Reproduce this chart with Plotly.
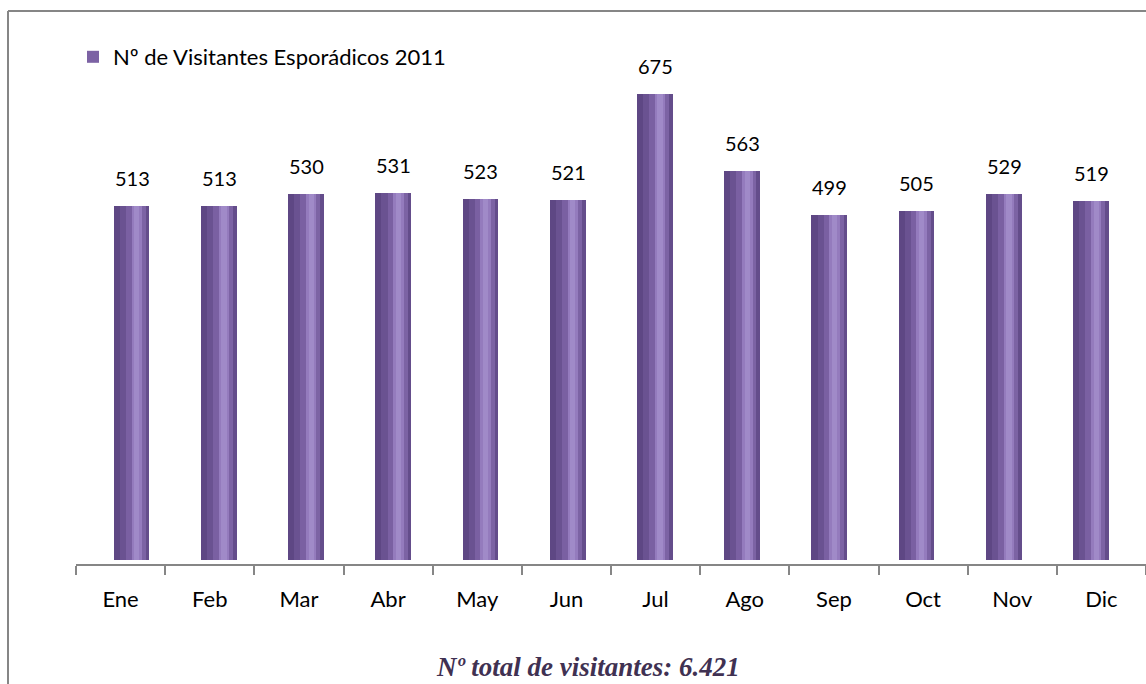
import plotly.graph_objects as go

months = ["Ene", "Feb", "Mar", "Abr", "May", "Jun", "Jul", "Ago", "Sep", "Oct", "Nov", "Dic"]
visitors = [513, 513, 530, 531, 523, 521, 675, 563, 499, 505, 529, 519]
series_name = "Nº de Visitantes Esporádicos 2011"
subtitle = "Nº total de visitantes: 6.421"

W = 1146
H = 684
L, R, T, B = 76, 0, 40, 120
pw = W - L - R
ph = H - T - B

def px_x(p):
    return (p - L) / pw

def px_y(p):
    return (H - B - p) / ph

FONT = "Lato"
fig = go.Figure()

# cylinder-like bar built from overlaid strips
strips = [
    # (offset, width, color, legend)
    (-0.205, 0.41, "#7C62A4", True),
    (-0.205, 0.07, "#5E4784", False),
    (-0.135, 0.07, "#6A5291", False),
    (-0.065, 0.065, "#7A60A2", False),
    (0.0, 0.12, "#947BBD", False),
    (0.03, 0.06, "#A08AC8", False),
    (0.12, 0.045, "#7C63A4", False),
    (0.165, 0.04, "#644D8B", False),
]
for off, wd, col, leg in strips:
    fig.add_trace(go.Bar(
        x=months, y=visitors, name=series_name,
        offset=off, width=wd,
        marker=dict(color=col, line=dict(width=0)),
        showlegend=leg, hoverinfo="skip" if not leg else None,
        xaxis="x", yaxis="y",
    ))

# invisible carrier trace so the category label axis is drawn
fig.add_trace(go.Scatter(
    x=list(range(len(months))), y=visitors, mode="markers",
    marker=dict(opacity=0), showlegend=False, hoverinfo="skip",
    xaxis="x2", yaxis="y",
))

for m, v in zip(months, visitors):
    fig.add_annotation(x=m, y=v, xref="x", yref="y", text=str(v), showarrow=False,
                       yshift=28, yanchor="middle",
                       font=dict(family=FONT, size=20, color="#000000"))

fig.add_annotation(x=px_x(587.5), y=px_y(667), xref="paper", yref="paper",
                   text="<b><i>" + subtitle + "</i></b>", showarrow=False,
                   xanchor="center", yanchor="middle",
                   font=dict(family="Liberation Serif", size=27, color="#403152"))

grey = "#868686"
fig.add_shape(type="line", xref="paper", yref="paper",
              x0=px_x(8), x1=px_x(8), y0=px_y(11), y1=px_y(700),
              line=dict(color=grey, width=2))
fig.add_shape(type="line", xref="paper", yref="paper",
              x0=px_x(8), x1=px_x(1160), y0=px_y(11), y1=px_y(11),
              line=dict(color=grey, width=2))

scale = 0.691
ymin = -4 / scale
ymax = ymin + ph / scale

fig.update_layout(
    width=W, height=H,
    margin=dict(l=L, r=R, t=T, b=B),
    paper_bgcolor="white", plot_bgcolor="rgba(0,0,0,0)",
    barmode="overlay",
    bargap=0,
    showlegend=True,
    legend=dict(x=px_x(73), y=px_y(57), xanchor="left", yanchor="middle",
                font=dict(family=FONT, size=22, color="#000000"),
                bgcolor="rgba(0,0,0,0)", itemclick=False),
    xaxis=dict(type="category", domain=[px_x(88.4), px_x(1134.9)],
               range=[-0.5, 11.5], visible=False, fixedrange=True),
    xaxis2=dict(type="linear", domain=[0, 1], anchor="y", range=[-0.5, 11.5],
                tickmode="array", tickvals=list(range(len(months))), ticktext=months,
                ticks="outside", ticklen=9, tickcolor="rgba(0,0,0,0)",
                ticklabelstandoff=6,
                showline=True, linecolor=grey, linewidth=2, showgrid=False, zeroline=False,
                minor=dict(ticks="outside", ticklen=9, tickwidth=2, tickcolor=grey,
                           tick0=-0.5, dtick=1, showgrid=False),
                tickfont=dict(family=FONT, size=22, color="#000000"), fixedrange=True),
    yaxis=dict(range=[ymin, ymax], visible=False, fixedrange=True),
)

fig.write_html("out.html", config={"displayModeBar": False},
               post_script="document.body.style.margin='0px';document.body.style.overflow='hidden';")
